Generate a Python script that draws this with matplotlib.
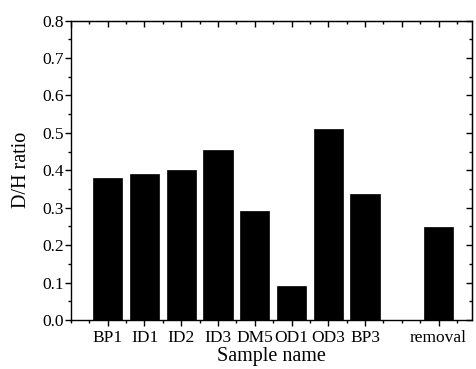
import matplotlib
matplotlib.use("Agg")
import matplotlib.pyplot as plt
from matplotlib.ticker import MultipleLocator

categories = ["BP1", "ID1", "ID2", "ID3", "DM5", "OD1", "OD3", "BP3", "removal"]
positions = [1, 2, 3, 4, 5, 6, 7, 8, 10]
values = [0.380, 0.389, 0.401, 0.453, 0.290, 0.090, 0.511, 0.337, 0.248]

plt.rcParams['font.family'] = ['Liberation Serif', 'DejaVu Serif']

fig = plt.figure(figsize=(4.76, 3.69), dpi=100)
ax = fig.add_axes([0.149, 0.133, 0.842, 0.811])
ax.bar(positions, values, width=0.8, color="black", edgecolor="black", linewidth=0.5)

ax.set_xlim(0, 10.9)
ax.set_ylim(0, 0.8)
ax.set_xticks(positions)
ax.set_xticklabels(categories)
ax.xaxis.set_minor_locator(MultipleLocator(0.5))
ax.yaxis.set_major_locator(MultipleLocator(0.1))
ax.yaxis.set_minor_locator(MultipleLocator(0.05))
ax.yaxis.set_major_formatter(matplotlib.ticker.FormatStrFormatter('%.1f'))

ax.tick_params(axis='both', which='major', labelsize=12.5, direction='out', length=4, width=1,
               top=False, right=False)
ax.tick_params(axis='both', which='minor', direction='out', length=2, width=1, top=False, right=False)
ax.tick_params(axis='x', which='major', pad=3)
ax.tick_params(axis='y', which='major', pad=1)

# inward ticks on top and right
axt = ax.secondary_xaxis('top')
axt.set_xticks(range(0, 11))
axt.xaxis.set_minor_locator(MultipleLocator(0.5))
axt.tick_params(which='major', direction='in', length=4, width=1, labeltop=False)
axt.tick_params(which='minor', direction='in', length=2, width=1)
axr = ax.secondary_yaxis('right')
axr.yaxis.set_major_locator(MultipleLocator(0.1))
axr.yaxis.set_minor_locator(MultipleLocator(0.05))
axr.tick_params(which='major', direction='in', length=4, width=1, labelright=False)
axr.tick_params(which='minor', direction='in', length=2, width=1)

for s in ax.spines.values():
    s.set_linewidth(1)

ax.set_xlabel("Sample name", fontsize=14.5, labelpad=1)
ax.set_ylabel("D/H ratio", fontsize=14.5, labelpad=8)

fig.savefig("out.png", dpi=100)
